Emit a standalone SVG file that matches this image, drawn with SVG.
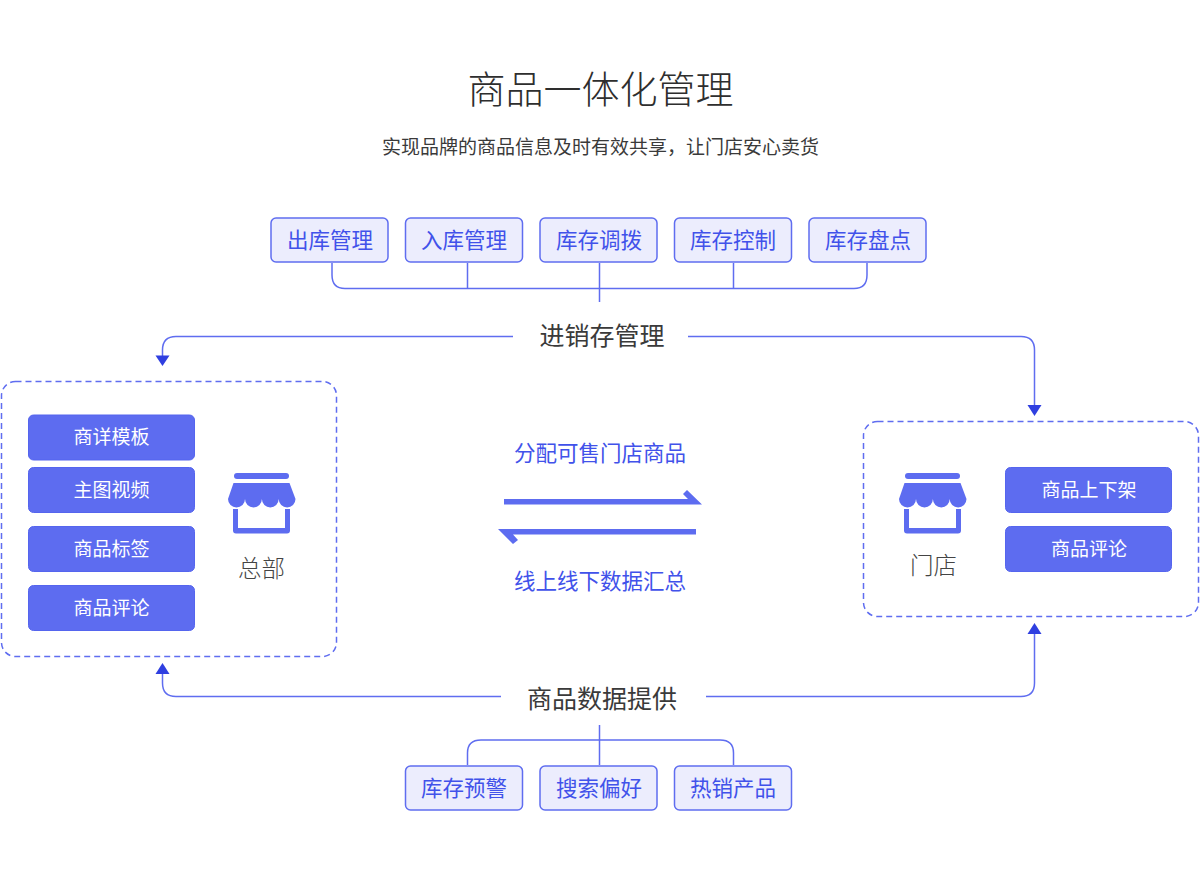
<svg xmlns="http://www.w3.org/2000/svg" width="1200" height="890" viewBox="0 0 1200 890">
<style>
text{font-family:"Noto Sans CJK SC","Noto Sans",sans-serif;text-anchor:middle;dominant-baseline:central;font-weight:400}
.lb rect{fill:#ecedfd;stroke:#5f6df0;stroke-width:1.5}
.lb text{font-size:21.5px;fill:#4152ea}
.db rect{fill:#5d6cf0;stroke:#5565ee;stroke-width:1}
.db text{font-size:19px;fill:#fff}
.cn{fill:none;stroke:#5f6df0;stroke-width:1.5}
.ah{fill:#2f3fe0}
.zone{fill:#fff;stroke:#5f6df0;stroke-width:1.5;stroke-dasharray:6 4}
.dark{fill:#3a3a3a}
.grey{fill:#5a5a5a;font-size:23.5px}
.blue{fill:#4152ea;font-size:21.5px}
.ic{fill:#5d6cf0}
</style>
<defs>
<g id="shop" class="ic">
<rect x="234" y="473" width="55" height="6" rx="3"/>
<path d="M233.500 483H289.500L295.500 499A8.400 8.400 0 0 1 278.700 499A8.400 8.400 0 0 1 261.900 499A8.400 8.400 0 0 1 245 499A8.500 8.500 0 0 1 228 499Z"/>
<path d="M233 509H238V528H285V509H290V530.500Q290 533.500 287 533.500H236Q233 533.500 233 530.500Z"/>
</g>
</defs>
<rect width="1200" height="890" fill="#fff"/>
<g id="title">
<text class="dark" x="600.500" y="86.500" font-size="38" style="font-weight:300;fill:#2e2e2e">商品一体化管理</text>
<text class="dark" x="600.500" y="145" font-size="19">实现品牌的商品信息及时有效共享，让门店安心卖货</text>
</g>
<g id="connectors">
<path class="cn" d="M332 263V275Q332 288.500 345 288.500H854Q867 288.500 867 275V263M467.500 263V288.500M599.500 263V302M733.500 263V288.500"/>
<path class="cn" d="M513 336.500H176Q162.500 336.500 162.500 350V356"/>
<path class="cn" d="M688 336.500H1021Q1034.500 336.500 1034.500 350V406"/>
<path class="cn" d="M501 696.500H176Q162.500 696.500 162.500 683V674"/>
<path class="cn" d="M706 696.500H1021Q1034.500 696.500 1034.500 683V634"/>
<path class="cn" d="M467.500 765V753Q467.500 740 481 740H720Q733.500 740 733.500 753V765M599.500 725V765"/>
<path class="ah" d="M155.500 355.500H169.500L162.500 366Z"/>
<path class="ah" d="M1027.500 405H1041.500L1034.500 416Z"/>
<path class="ah" d="M155.500 674H169.500L162.500 663Z"/>
<path class="ah" d="M1027.500 634H1041.500L1034.500 623Z"/>
</g>
<g id="n-top" class="lb">
<g id="n1"><rect x="271" y="218" width="117" height="44" rx="5"/><text x="330" y="238">出库管理</text></g>
<g id="n2"><rect x="405.500" y="218" width="117" height="44" rx="5"/><text x="464" y="238">入库管理</text></g>
<g id="n3"><rect x="540" y="218" width="117" height="44" rx="5"/><text x="599" y="238">库存调拨</text></g>
<g id="n4"><rect x="674.500" y="218" width="117" height="44" rx="5"/><text x="733" y="238">库存控制</text></g>
<g id="n5"><rect x="809" y="218" width="117" height="44" rx="5"/><text x="868" y="238">库存盘点</text></g>
</g>
<g id="n-bottom" class="lb">
<g id="n6"><rect x="405.500" y="766" width="117" height="44" rx="5"/><text x="464" y="786">库存预警</text></g>
<g id="n7"><rect x="540" y="766" width="117" height="44" rx="5"/><text x="599" y="786">搜索偏好</text></g>
<g id="n8"><rect x="674.500" y="766" width="117" height="44" rx="5"/><text x="733" y="786">热销产品</text></g>
</g>
<g id="hub1"><text class="dark" x="602" y="333.500" font-size="25">进销存管理</text></g>
<g id="hub2"><text class="dark" x="602" y="696.500" font-size="25">商品数据提供</text></g>
<g id="hq">
<rect class="zone" x="1.500" y="381.500" width="335" height="275" rx="14"/>
<g class="db">
<rect x="28.500" y="415" width="166" height="45" rx="5"/><text x="111.500" y="435.500">商详模板</text>
<rect x="28.500" y="467.500" width="166" height="45" rx="5"/><text x="111.500" y="488">主图视频</text>
<rect x="28.500" y="526.500" width="166" height="45" rx="5"/><text x="111.500" y="547">商品标签</text>
<rect x="28.500" y="585.500" width="166" height="45" rx="5"/><text x="111.500" y="606">商品评论</text>
</g>
<use href="#shop"/>
<text class="grey" x="261.500" y="566.500" style="font-weight:300;fill:#444">总部</text>
</g>
<g id="store">
<rect class="zone" x="863.500" y="421.500" width="335" height="195" rx="14"/>
<g class="db">
<rect x="1005.500" y="467.500" width="166" height="45" rx="5"/><text x="1089" y="488">商品上下架</text>
<rect x="1005.500" y="526.500" width="166" height="45" rx="5"/><text x="1089" y="547">商品评论</text>
</g>
<use href="#shop" x="671"/>
<text class="grey" x="933.500" y="563.500" style="font-weight:300;fill:#444">门店</text>
</g>
<g id="exchange">
<text class="blue" x="600" y="451">分配可售门店商品</text>
<path class="ic" d="M504 499H688L683 494L687 490L702 504.500H504Z"/>
<path class="ic" d="M696 529V534.500H513L518 540L513 544L498 529Z"/>
<text class="blue" x="600" y="579">线上线下数据汇总</text>
</g>
</svg>
